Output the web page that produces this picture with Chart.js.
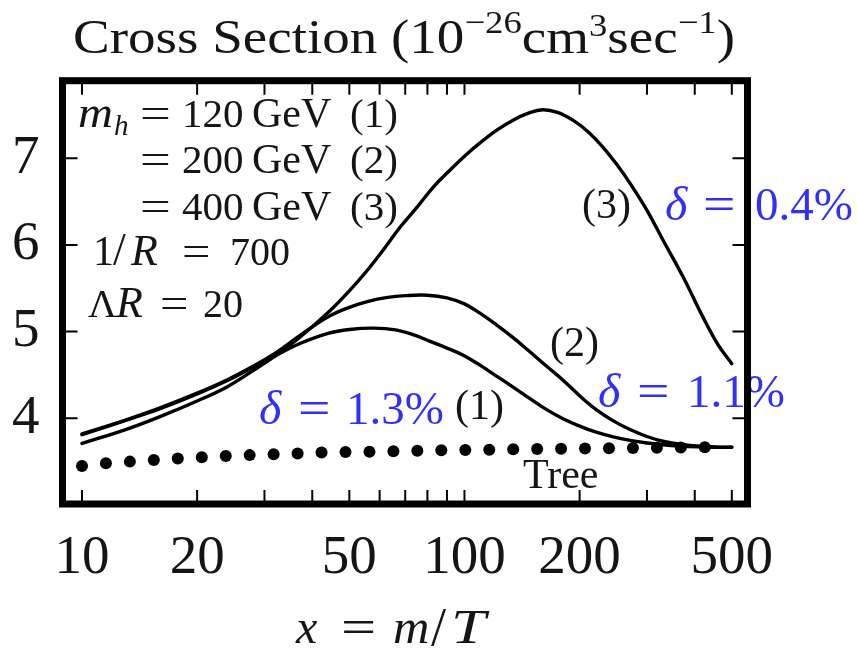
<!DOCTYPE html>
<html><head><meta charset="utf-8">
<script src="https://cdn.jsdelivr.net/npm/chart.js@4.4.1/dist/chart.umd.min.js"></script>
<style>html,body{margin:0;padding:0;background:#fff;}canvas{display:block;}</style>
</head><body>
<canvas id="c" width="857" height="657"></canvas>
<script>
// ---- axis ticks ----
const xTickValues = [10,20,30,40,50,60,70,80,90,100,200,300,400,500];
const xTickLabels = {10:'10',20:'20',50:'50',100:'100',200:'200',500:'500'};
const yTickValues = [4,5,6,7];

// ---- curve (1): m_h = 120 GeV ----
const x1 = [10,13,16,20,24,28,32,37,44,50,58,66,74,81,90,99,110,121,134,148,164,181,200,221,245,271,300,330,365,405,450,500];
const y1 = [3.81,3.975,4.11,4.28,4.435,4.59,4.72,4.86,4.98,5.025,5.04,5.02,4.96,4.89,4.81,4.73,4.61,4.49,4.36,4.23,4.10,3.995,3.91,3.84,3.785,3.745,3.715,3.695,3.68,3.67,3.665,3.665];

// ---- curve (2): m_h = 200 GeV ----
const x2 = [10,13,16,20,24,28,32,37,44,50,56,63,70,80,90,100,110,121,134,148,164,181,200,221,245,271,300,330,365,405,450,500];
const y2 = [3.82,3.98,4.12,4.29,4.445,4.60,4.75,4.95,5.17,5.28,5.35,5.395,5.415,5.42,5.39,5.32,5.21,5.08,4.93,4.77,4.60,4.44,4.26,4.10,3.97,3.87,3.79,3.735,3.70,3.68,3.67,3.665];

// ---- curve (3): m_h = 400 GeV ----
const x3 = [10,13,16,20,24,28,32,37,44,50,56,62,68,75,83,92,101,110,122,134,147,160,175,192,210,230,250,271,300,330,373,420,460,500];
const y3 = [3.71,3.87,4.02,4.20,4.365,4.55,4.72,4.93,5.22,5.47,5.72,5.97,6.21,6.43,6.67,6.87,7.04,7.18,7.33,7.44,7.52,7.56,7.53,7.44,7.31,7.13,6.93,6.71,6.40,6.06,5.63,5.17,4.85,4.63];

// ---- tree level (dotted) ----
const treeX = [10,11.55,13.34,15.41,17.8,20.57,23.76,27.44,31.7,36.62,42.3,48.86,56.44,65.19,75.3,86.98,100.5,116.1,134.1,154.9,178.9,206.6,238.7,275.7,318.5,367.9,425];
const treeY = [3.45,3.48,3.50,3.52,3.535,3.55,3.565,3.575,3.585,3.595,3.605,3.61,3.615,3.62,3.625,3.63,3.634,3.638,3.642,3.645,3.648,3.651,3.654,3.657,3.66,3.662,3.665];

const SERIF = '"Liberation Serif", "Times New Roman", serif';
const BLUE = '#3030fa';
const INK = '#151515';

function pts(xs, ys){ return xs.map((x,i)=>({x:x, y:ys[i]})); }

function txt(ctx, t, x, y, size, opts){
  opts = opts || {};
  ctx.save();
  ctx.font = (opts.italic ? 'italic ' : '') + size + 'px ' + SERIF;
  ctx.fillStyle = opts.color || INK;
  ctx.textBaseline = 'alphabetic';
  ctx.textAlign = 'left';
  ctx.translate(x, y);
  ctx.scale(opts.sx || 1, 1);
  ctx.fillText(t, 0, 0);
  ctx.restore();
}

function seq(ctx, x0, base, pieces, target){
  ctx.save();
  let total = 0;
  pieces.forEach(p=>{ ctx.font = p.s + 'px ' + SERIF; total += ctx.measureText(p.t).width; });
  const sx = target / total;
  ctx.translate(x0, base);
  ctx.scale(sx, 1);
  ctx.fillStyle = INK;
  ctx.textBaseline = 'alphabetic';
  let cx = 0;
  pieces.forEach(p=>{ ctx.font = p.s + 'px ' + SERIF; ctx.fillText(p.t, cx, p.dy||0); cx += ctx.measureText(p.t).width; });
  ctx.restore();
}

const decor = {
  id: 'decor',
  afterDraw(chart){
    const ctx = chart.ctx, a = chart.chartArea, xs = chart.scales.x, ys = chart.scales.y;
    // title
    seq(ctx, 73, 53, [
      {t:'Cross Section (10', s:48},
      {t:'\u221226', s:32, dy:-20},
      {t:'cm', s:48},
      {t:'3', s:32, dy:-17},
      {t:'sec', s:48},
      {t:'\u22121', s:32, dy:-20},
      {t:')', s:48}
    ], 662);
    // x-axis title  x = m/T
    txt(ctx, 'x', 296, 643, 48, {italic:true});
    txt(ctx, '=', 341, 643, 48, {sx:1.3});
    txt(ctx, 'm', 393, 643, 48, {italic:true, sx:1.05});
    txt(ctx, '/', 431, 645, 54);
    txt(ctx, 'T', 451, 643, 48, {italic:true, sx:1.3});
    // parameter block
    txt(ctx, 'm', 78, 127, 44, {italic:true, sx:1.1});
    txt(ctx, 'h', 114, 135, 29, {italic:true});
    const rows = [['120','(1)',127],['200','(2)',173],['400','(3)',220]];
    rows.forEach(r=>{
      txt(ctx, '=', 140, r[2], 42, {sx:1.3});
      txt(ctx, r[0], 182, r[2], 41);
      txt(ctx, 'GeV', 252, r[2], 42);
      txt(ctx, r[1], 350, r[2], 41);
    });
    txt(ctx, '1', 93, 265, 42);
    txt(ctx, '/', 113, 265, 46);
    txt(ctx, 'R', 131, 265, 44, {italic:true});
    txt(ctx, '=', 182, 265, 42, {sx:1.2});
    txt(ctx, '700', 230, 265, 40);
    txt(ctx, '\u039B', 88, 317, 40);
    txt(ctx, 'R', 116, 317, 44, {italic:true});
    txt(ctx, '=', 160, 317, 42, {sx:1.2});
    txt(ctx, '20', 203, 317, 40);
    // curve labels
    txt(ctx, '(3)', 582, 218, 42);
    txt(ctx, '(2)', 550, 356, 42);
    txt(ctx, '(1)', 455, 419, 42);
    txt(ctx, 'Tree', 523, 488, 42);
    // deltas
    const deltas = [['0.4%',665,703,755,220],['1.1%',598,637,687,407],['1.3%',259,298,346,424]];
    deltas.forEach(d=>{
      txt(ctx, '\u03B4', d[1], d[4], 48, {italic:true, color:BLUE});
      txt(ctx, '=', d[2], d[4], 48, {sx:1.2, color:BLUE});
      txt(ctx, d[0], d[3], d[4], 47, {color:BLUE});
    });
    // inner tick marks
    ctx.save();
    ctx.strokeStyle = '#000';
    ctx.lineWidth = 2;
    ctx.beginPath();
    xTickValues.forEach(v=>{
      const px = xs.getPixelForValue(v);
      ctx.moveTo(px, a.bottom); ctx.lineTo(px, a.bottom - 14);
      ctx.moveTo(px, a.top); ctx.lineTo(px, a.top + 14);
    });
    yTickValues.forEach(v=>{
      const py = ys.getPixelForValue(v);
      ctx.moveTo(a.left, py); ctx.lineTo(a.left + 15, py);
      ctx.moveTo(a.right, py); ctx.lineTo(a.right - 15, py);
    });
    ctx.stroke();
    // frame
    ctx.lineWidth = 7;
    ctx.lineJoin = 'miter';
    ctx.strokeRect(a.left, a.top, a.right - a.left, a.bottom - a.top);
    ctx.restore();
  }
};

Chart.defaults.font.family = SERIF;
Chart.defaults.color = INK;

const lineDs = (label, xs, ys) => ({
  label: label, data: pts(xs, ys), borderColor: '#000', borderWidth: 3.4,
  pointRadius: 0, fill: false, tension: 0.4, borderCapStyle: 'round', borderJoinStyle: 'round'
});

new Chart(document.getElementById('c'), {
  type: 'line',
  data: {
    datasets: [
      lineDs('m_h = 120 GeV (1)', x1, y1),
      lineDs('m_h = 200 GeV (2)', x2, y2),
      lineDs('m_h = 400 GeV (3)', x3, y3),
      { label: 'Tree', data: pts(treeX, treeY), showLine: false,
        pointRadius: 6, pointBackgroundColor: '#000', pointBorderWidth: 0, borderColor: '#000' }
    ]
  },
  options: {
    responsive: false,
    animation: false,
    devicePixelRatio: 1,
    layout: { padding: { left: 0, right: 109.5, top: 80.7, bottom: 0 } },
    plugins: { legend: { display: false }, tooltip: { enabled: false }, title: { display: false } },
    scales: {
      x: {
        type: 'logarithmic', min: 8.893, max: 549.5,
        grid: { display: false, drawTicks: false }, border: { display: false },
        afterBuildTicks: s => { s.ticks = xTickValues.map(v => ({ value: v })); },
        afterFit: s => { s.height = 153; },
        ticks: {
          autoSkip: false, maxRotation: 0, minRotation: 0, padding: 22,
          font: { size: 55 }, color: INK,
          callback: v => xTickLabels[v] || ''
        }
      },
      y: {
        type: 'linear', min: 3.011, max: 7.895,
        grid: { display: false, drawTicks: false }, border: { display: false },
        afterBuildTicks: s => { s.ticks = yTickValues.map(v => ({ value: v })); },
        afterFit: s => { s.width = 62.5; },
        ticks: { padding: 23, font: { size: 55 }, color: INK, callback: v => String(v) }
      }
    }
  },
  plugins: [decor]
});
</script>
</body></html>
